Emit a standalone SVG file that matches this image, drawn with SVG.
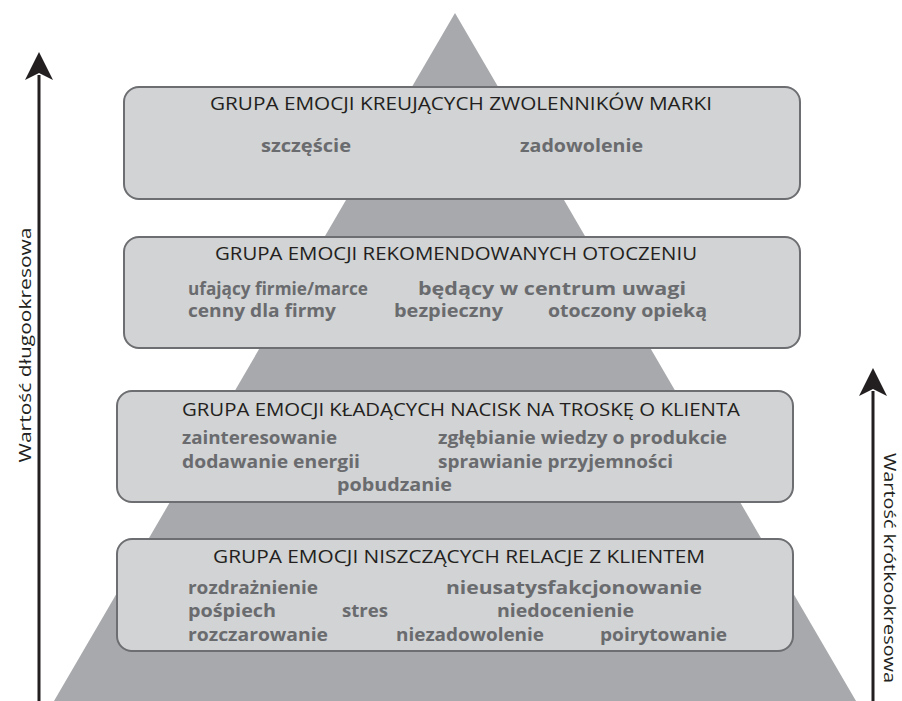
<svg xmlns="http://www.w3.org/2000/svg" width="902" height="701" viewBox="0 0 902 701">
<defs>
<style>
.bg{fill:#ffffff}
.pyr{fill:#a7a9ac}
.box{fill:#d1d3d4;stroke:#6d6e71;stroke-width:2}
.title{font-family:"Open Sans","Noto Sans",sans-serif;font-size:17.5px;fill:#231f20}
.item{font-family:"Open Sans","Noto Sans",sans-serif;font-size:18px;font-weight:700;fill:#6a6b6e}
.axis{stroke:#231f20;stroke-width:3;fill:none}
.axlab{font-family:"Open Sans","Noto Sans",sans-serif;font-size:16px;fill:#231f20}
</style>
<marker id="arr" markerUnits="userSpaceOnUse" viewBox="-6 -15 30 30" markerWidth="30" markerHeight="30" refX="0" refY="0" orient="auto">
<path d="M23,0 L-5,-14 L2,0 L-5,14 Z" fill="#231f20"/>
</marker>
</defs>
<rect class="bg" x="0" y="0" width="902" height="701"/>
<polygon id="pyramid" class="pyr" points="455,13 54,701 856,701"/>

<g id="connectors">
<line class="axis" x1="39" y1="701" x2="39" y2="75" marker-end="url(#arr)"/>
<line class="axis" x1="873" y1="701" x2="873" y2="391" marker-end="url(#arr)"/>
</g>

<g id="label-long">
<text class="axlab" transform="translate(31,345) rotate(-90)" text-anchor="middle" textLength="235" lengthAdjust="spacingAndGlyphs">Wartość długookresowa</text>
</g>
<g id="label-short">
<text class="axlab" transform="translate(884,568) rotate(90)" text-anchor="middle" textLength="230" lengthAdjust="spacingAndGlyphs">Wartość krótkookresowa</text>
</g>

<g id="box1">
<rect class="box" x="124" y="87" width="676" height="112" rx="15"/>
<text class="title" x="210" y="110" textLength="502" lengthAdjust="spacingAndGlyphs">GRUPA EMOCJI KREUJĄCYCH ZWOLENNIKÓW MARKI</text>
<text class="item" x="261" y="152" textLength="90" lengthAdjust="spacingAndGlyphs">szczęście</text>
<text class="item" x="520" y="152" textLength="123" lengthAdjust="spacingAndGlyphs">zadowolenie</text>
</g>

<g id="box2">
<rect class="box" x="124" y="237" width="676" height="111" rx="15"/>
<text class="title" x="215" y="260" textLength="482" lengthAdjust="spacingAndGlyphs">GRUPA EMOCJI REKOMENDOWANYCH OTOCZENIU</text>
<text class="item" x="188" y="295" textLength="180" lengthAdjust="spacingAndGlyphs">ufający firmie/marce</text>
<text class="item" x="418" y="295" textLength="268" lengthAdjust="spacingAndGlyphs">będący w centrum uwagi</text>
<text class="item" x="188" y="317" textLength="148" lengthAdjust="spacingAndGlyphs">cenny dla firmy</text>
<text class="item" x="394" y="317" textLength="109" lengthAdjust="spacingAndGlyphs">bezpieczny</text>
<text class="item" x="548" y="317" textLength="159" lengthAdjust="spacingAndGlyphs">otoczony opieką</text>
</g>

<g id="box3">
<rect class="box" x="117" y="391" width="676" height="111" rx="15"/>
<text class="title" x="182" y="416" textLength="558" lengthAdjust="spacingAndGlyphs">GRUPA EMOCJI KŁADĄCYCH NACISK NA TROSKĘ O KLIENTA</text>
<text class="item" x="182" y="444" textLength="155" lengthAdjust="spacingAndGlyphs">zainteresowanie</text>
<text class="item" x="438" y="444" textLength="289" lengthAdjust="spacingAndGlyphs">zgłębianie wiedzy o produkcie</text>
<text class="item" x="182" y="468" textLength="178" lengthAdjust="spacingAndGlyphs">dodawanie energii</text>
<text class="item" x="438" y="468" textLength="235" lengthAdjust="spacingAndGlyphs">sprawianie przyjemności</text>
<text class="item" x="337" y="491" textLength="115" lengthAdjust="spacingAndGlyphs">pobudzanie</text>
</g>

<g id="box4">
<rect class="box" x="117" y="539" width="676" height="112" rx="15"/>
<text class="title" x="213" y="563" textLength="492" lengthAdjust="spacingAndGlyphs">GRUPA EMOCJI NISZCZĄCYCH RELACJE Z KLIENTEM</text>
<text class="item" x="188" y="594" textLength="130" lengthAdjust="spacingAndGlyphs">rozdrażnienie</text>
<text class="item" x="446" y="594" textLength="256" lengthAdjust="spacingAndGlyphs">nieusatysfakcjonowanie</text>
<text class="item" x="188" y="617" textLength="88" lengthAdjust="spacingAndGlyphs">pośpiech</text>
<text class="item" x="342" y="617" textLength="46" lengthAdjust="spacingAndGlyphs">stres</text>
<text class="item" x="497" y="617" textLength="137" lengthAdjust="spacingAndGlyphs">niedocenienie</text>
<text class="item" x="188" y="641" textLength="140" lengthAdjust="spacingAndGlyphs">rozczarowanie</text>
<text class="item" x="396" y="641" textLength="148" lengthAdjust="spacingAndGlyphs">niezadowolenie</text>
<text class="item" x="600" y="641" textLength="127" lengthAdjust="spacingAndGlyphs">poirytowanie</text>
</g>
</svg>
